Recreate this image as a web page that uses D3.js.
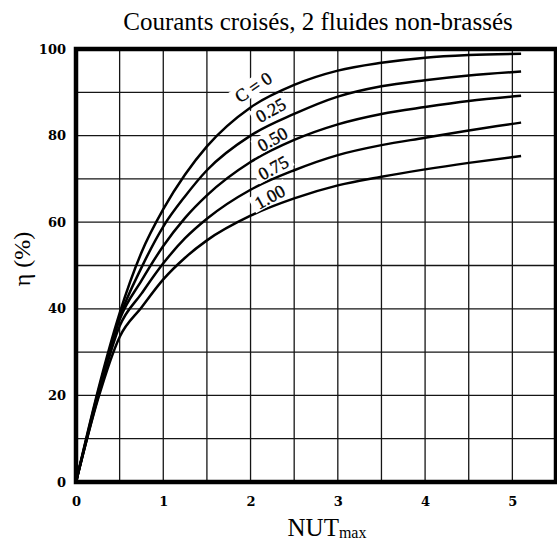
<!DOCTYPE html>
<html>
<head>
<meta charset="utf-8">
<script src="https://cdn.jsdelivr.net/npm/d3@7/dist/d3.min.js"></script>
<style>
  html, body { margin: 0; padding: 0; background: #fff; }
  svg { display: block; }
</style>
</head>
<body>
<svg id="chart" width="557" height="542"></svg>
<script>
// NUT_max sample points shared by every curve
const ntu = [0, 0.25, 0.5, 0.75, 1, 1.25, 1.5, 2, 2.5, 3, 3.5, 4, 4.5, 5.1];

// Effectiveness η (%) for each capacity ratio C
const etaC0   = [0, 21, 39, 53, 63, 71, 77.5, 86.5, 91.7, 95, 96.8, 98, 98.6, 98.9];
const etaC025 = [0, 20.5, 38, 49.5, 59, 66, 72, 80, 85, 89, 91.4, 92.8, 93.9, 94.8];
const etaC050 = [0, 20, 37.5, 46.5, 54.5, 61, 66.2, 73.9, 79, 82.6, 85, 86.6, 88, 89.2];
const etaC075 = [0, 19.5, 36, 43.5, 50.5, 56.3, 60.8, 67.5, 72, 75.5, 77.8, 79.5, 81.2, 83];
const etaC100 = [0, 19, 33.5, 40.3, 46.8, 51.8, 55.8, 61.5, 65.5, 68.5, 70.5, 72.2, 73.7, 75.3];

// Curve labels: text and the (NUT, η) spot where each one sits
const curveLabels = ["C = 0", "0.25", "0.50", "0.75", "1.00"];
const labelNtu    = [2.03, 2.23, 2.25, 2.26, 2.22];
const labelEta    = [91.2, 85.9, 79.2, 72.6, 65.9];

// Axis ticks
const xTicks = [0, 1, 2, 3, 4, 5];
const yTicks = [0, 20, 40, 60, 80, 100];

const svg = d3.select("#chart");
const plotLeft = 76, plotRight = 556, plotTop = 49, plotBottom = 482;

const x = d3.scaleLinear().domain([0, 5.5]).range([plotLeft, plotRight]);
const y = d3.scaleLinear().domain([0, 100]).range([plotBottom, plotTop]);

const serif = "'Liberation Serif', 'Times New Roman', serif";
const tickFont = "'DejaVu Serif', serif";

// Grid
const gridX = d3.range(0, 5.5001, 0.5);
const gridY = d3.range(0, 100.001, 10);
const grid = svg.append("g").attr("stroke", "#151515").attr("stroke-width", 1.3);
grid.selectAll("line.v").data(gridX).join("line")
  .attr("class", "v")
  .attr("x1", d => x(d)).attr("x2", d => x(d))
  .attr("y1", y(0)).attr("y2", y(100));
grid.selectAll("line.h").data(gridY).join("line")
  .attr("class", "h")
  .attr("x1", x(0)).attr("x2", x(5.5))
  .attr("y1", d => y(d)).attr("y2", d => y(d));

// Curves
const series = [etaC0, etaC025, etaC050, etaC075, etaC100];
const line = d3.line()
  .x(d => x(d[0]))
  .y(d => y(d[1]))
  .curve(d3.curveMonotoneX);

svg.append("g")
  .selectAll("path")
  .data(series)
  .join("path")
  .attr("d", s => line(ntu.map((n, i) => [n, s[i]])))
  .attr("fill", "none")
  .attr("stroke", "#000")
  .attr("stroke-width", 2.5)
  .attr("stroke-linejoin", "round");

// Curve labels on a white patch
const lab = svg.append("g")
  .selectAll("g")
  .data(curveLabels)
  .join("g")
  .attr("transform", (d, i) => `translate(${x(labelNtu[i])},${y(labelEta[i])}) rotate(${i === 0 ? -34 : -29})`);
lab.append("rect")
  .attr("x", d => d.length === 5 ? -24 : -20)
  .attr("y", -9)
  .attr("width", d => d.length === 5 ? 48 : 40)
  .attr("height", 17)
  .attr("fill", "#fff");
lab.append("text")
  .attr("text-anchor", "middle")
  .attr("dy", "0.35em")
  .attr("font-family", serif)
  .attr("font-size", 18)
  .attr("stroke", "#000")
  .attr("stroke-width", 0.35)
  .attr("fill", "#000")
  .text(d => d);

// Frame
svg.append("rect")
  .attr("x", x(0)).attr("y", y(100))
  .attr("width", x(5.5) - x(0)).attr("height", y(0) - y(100))
  .attr("fill", "none")
  .attr("stroke", "#000")
  .attr("stroke-width", 4.5);

// Axes
const xAxis = svg.append("g")
  .attr("transform", `translate(0,${plotBottom})`)
  .call(d3.axisBottom(x).tickValues(xTicks).tickSize(0).tickPadding(15).tickFormat(d3.format("d")));
const yAxis = svg.append("g")
  .attr("transform", `translate(${plotLeft},0)`)
  .call(d3.axisLeft(y).tickValues(yTicks).tickSize(0).tickPadding(10).tickFormat(d3.format("d")));
[xAxis, yAxis].forEach(a => {
  a.select(".domain").remove();
  a.selectAll("text")
    .attr("font-family", tickFont)
    .attr("font-weight", "bold")
    .attr("font-size", 13)
    .attr("fill", "#000");
});

// Title
svg.append("text")
  .attr("x", 318).attr("y", 30)
  .attr("text-anchor", "middle")
  .attr("font-family", serif)
  .attr("font-size", 25)
  .attr("fill", "#000")
  .text("Courants croisés, 2 fluides non-brassés");

// X axis title
const xt = svg.append("text")
  .attr("x", 327).attr("y", 536)
  .attr("text-anchor", "middle")
  .attr("font-family", serif)
  .attr("font-size", 25)
  .attr("fill", "#000");
xt.append("tspan").text("NUT");
xt.append("tspan").attr("font-size", 16).attr("dy", 2).text("max");

// Y axis title
svg.append("text")
  .attr("transform", "translate(30,259) rotate(-90)")
  .attr("text-anchor", "middle")
  .attr("font-family", serif)
  .attr("font-size", 24)
  .attr("fill", "#000")
  .text("η (%)");
</script>
</body>
</html>
